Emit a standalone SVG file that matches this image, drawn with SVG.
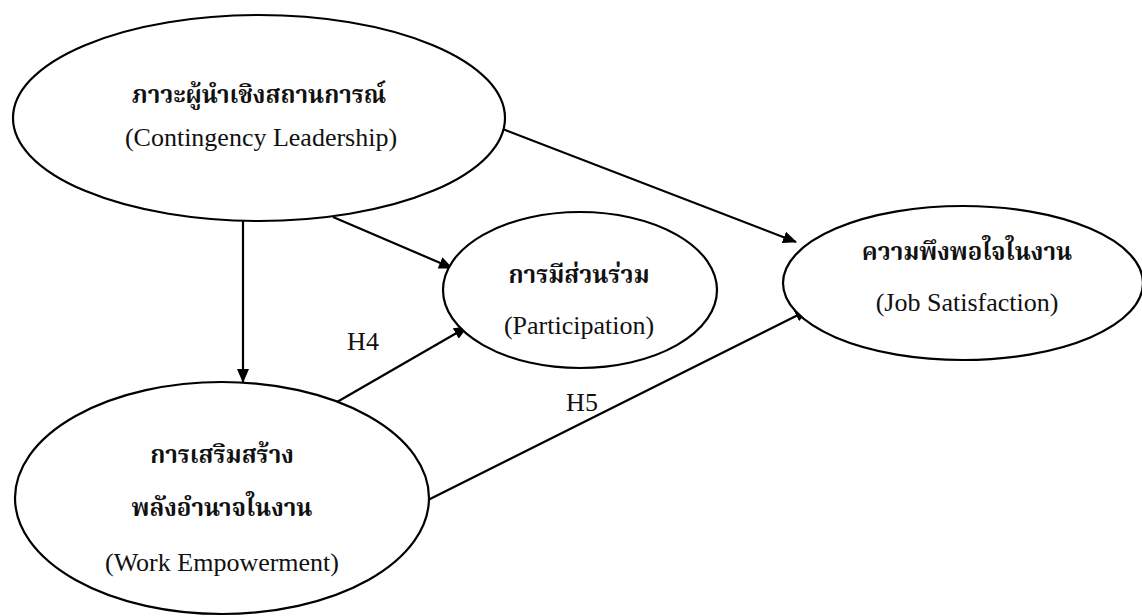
<svg xmlns="http://www.w3.org/2000/svg" width="1142" height="616" viewBox="0 0 1142 616">
<defs>
<marker id="ah" viewBox="0 0 14 12" refX="13" refY="6" markerWidth="14" markerHeight="12" markerUnits="userSpaceOnUse" orient="auto">
<path d="M0,0 L14,6 L0,12 Z" fill="#000"/>
</marker>
<style>
.node ellipse{fill:#fff;stroke:#000;stroke-width:2.2}
.th{font-family:"Noto Serif Thai","Noto Sans Thai","Liberation Serif",serif;font-size:24px;font-weight:bold;text-anchor:middle;fill:#111}
.en{font-family:"Liberation Serif","Times New Roman",serif;font-size:26px;text-anchor:middle;fill:#111}
.lbl{font-family:"Liberation Serif","Times New Roman",serif;font-size:26px;text-anchor:middle;fill:#111}
#connectors line{stroke:#000;stroke-width:2.2;fill:none;marker-end:url(#ah)}
</style>
</defs>
<rect width="1142" height="616" fill="#fff"/>
<g id="connectors">
<line x1="243" y1="220" x2="243" y2="382"/>
<line x1="333" y1="217" x2="452" y2="268"/>
<line x1="500" y1="128" x2="796" y2="242"/>
<line x1="337" y1="402" x2="467" y2="327"/>
<line x1="428" y1="500" x2="808" y2="310"/>
</g>
<g id="node-leadership" class="node">
<ellipse cx="259" cy="118" rx="246" ry="103"/>
<text class="th" x="259" y="103">ภาวะผู้นำเชิงสถานการณ์</text>
<text class="en" x="261" y="146">(Contingency Leadership)</text>
</g>
<g id="node-participation" class="node">
<ellipse cx="580" cy="290" rx="137" ry="78"/>
<text class="th" x="579" y="283">การมีส่วนร่วม</text>
<text class="en" x="579" y="334">(Participation)</text>
</g>
<g id="node-satisfaction" class="node">
<ellipse cx="963" cy="283" rx="180" ry="77"/>
<text class="th" x="967" y="260">ความพึงพอใจในงาน</text>
<text class="en" x="967" y="311">(Job Satisfaction)</text>
</g>
<g id="node-empowerment" class="node">
<ellipse cx="222" cy="498" rx="207" ry="116"/>
<text class="th" x="222" y="463">การเสริมสร้าง</text>
<text class="th" x="222" y="516">พลังอำนาจในงาน</text>
<text class="en" x="222" y="571">(Work Empowerment)</text>
</g>
<g id="labels">
<text class="lbl" x="363" y="350">H4</text>
<text class="lbl" x="582" y="411">H5</text>
</g>
</svg>
